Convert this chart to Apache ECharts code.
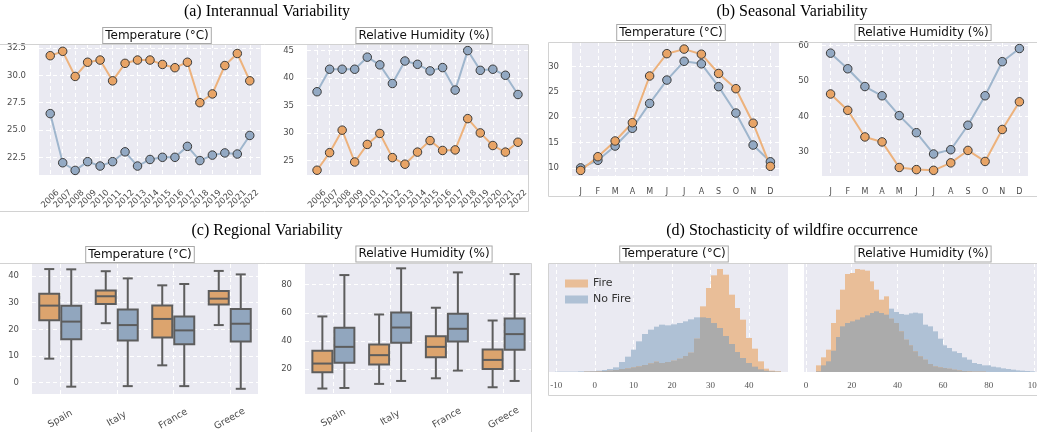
<!DOCTYPE html>
<html>
<head>
<meta charset="utf-8">
<script src="https://cdn.jsdelivr.net/npm/echarts@6/dist/echarts.min.js"></script>
<style>
html, body { margin: 0; padding: 0; background: #fff; }
#chart { width: 1037px; height: 432px; }
</style>
</head>
<body>
<div id="chart"></div>
<script>
// ---------- (a) interannual means ----------
const years = [2006, 2007, 2008, 2009, 2010, 2011, 2012, 2013, 2014, 2015, 2016, 2017, 2018, 2019, 2020, 2021, 2022];
const annualTempFire   = [31.8, 32.2, 29.9, 31.2, 31.4, 29.5, 31.1, 31.4, 31.4, 31.0, 30.7, 31.2, 27.5, 28.3, 30.9, 32.0, 29.5];
const annualTempNoFire = [26.5, 22.0, 21.3, 22.1, 21.7, 22.1, 23.0, 21.7, 22.3, 22.5, 22.5, 23.5, 22.2, 22.7, 22.9, 22.8, 24.5];
const annualRhFire     = [23.2, 26.4, 30.5, 24.7, 27.9, 29.9, 25.5, 24.3, 26.5, 28.6, 26.8, 26.9, 32.6, 30.0, 27.7, 26.5, 28.3];
const annualRhNoFire   = [37.5, 41.6, 41.6, 41.6, 43.8, 42.4, 39.0, 43.1, 42.5, 41.3, 41.9, 37.8, 45.0, 41.4, 41.6, 40.5, 37.0];
const annualTempTicks = [22.5, 25, 27.5, 30, 32.5];
const annualRhTicks   = [25, 30, 35, 40, 45];

// ---------- (b) monthly means ----------
const monthLabels = ['J', 'F', 'M', 'A', 'M', 'J', 'J', 'A', 'S', 'O', 'N', 'D'];
const monthlyTempFire   = [9.5, 12.2, 15.3, 18.9, 28.1, 32.5, 33.4, 32.4, 28.6, 25.6, 18.8, 10.3];
const monthlyTempNoFire = [10.0, 11.5, 14.3, 17.8, 22.7, 27.3, 31.0, 30.5, 26.0, 20.8, 14.5, 11.2];
const monthlyRhFire     = [46.3, 41.7, 34.2, 32.8, 25.6, 25.0, 24.8, 26.9, 30.4, 27.3, 36.3, 44.1];
const monthlyRhNoFire   = [57.8, 53.4, 48.4, 45.8, 40.2, 35.4, 29.4, 30.6, 37.5, 45.8, 55.4, 59.1];
const monthlyTempTicks = [10, 15, 20, 25, 30];
const monthlyRhTicks   = [30, 40, 50, 60];

// ---------- (c) regional distributions: [min, Q1, median, Q3, max] ----------
const regions = ['Spain', 'Italy', 'France', 'Greece'];
const regionTempFire   = [[9.0, 23.4, 28.9, 33.3, 42.6], [22.3, 29.5, 32.4, 34.6, 41.8], [6.5, 16.9, 23.9, 28.9, 36.5], [21.6, 29.3, 31.5, 34.4, 41.9]];
const regionTempNoFire = [[-1.5, 16.3, 22.9, 28.8, 42.5], [-1.3, 15.8, 21.6, 27.4, 39.1], [-1.3, 14.4, 19.6, 24.8, 37.0], [-2.3, 15.4, 22.1, 27.6, 40.6]];
const regionRhFire     = [[6.0, 17.6, 23.8, 32.9, 57.4], [9.3, 23.1, 29.8, 37.4, 58.8], [13.3, 28.3, 35.7, 43.3, 63.6], [6.9, 20.0, 26.4, 33.8, 54.5]];
const regionRhNoFire   = [[6.4, 24.3, 35.7, 49.3, 86.9], [11.4, 38.6, 49.5, 60.2, 91.7], [18.8, 39.5, 48.6, 59.3, 88.8], [11.4, 33.6, 44.8, 56.0, 87.6]];
const regionTempTicks = [0, 10, 20, 30, 40];
const regionRhTicks   = [20, 40, 60, 80];

// ---------- (d) histograms (relative frequency, arbitrary units) ----------
const tempBinStart = -10.25, tempBinWidth = 1.5;
const tempHistFire   = [0, 0, 0, 0, 0, 1, 1, 2, 3, 4, 6, 9, 11, 14, 17, 21, 26, 31, 27, 30, 34, 40, 48, 58, 100, 197, 252, 290, 309, 292, 232, 192, 157, 102, 70, 32, 10, 4, 2];
const tempHistNoFire = [1, 1, 1, 1, 2, 2, 3, 4, 6, 9, 14, 30, 46, 67, 92, 114, 127, 136, 142, 140, 143, 147, 152, 158, 164, 164, 162, 147, 132, 108, 84, 60, 42, 27, 16, 8, 4, 2, 1];
const rhBinStart = 4.4, rhBinWidth = 2.13;
const rhHistFire   = [20, 44, 67, 147, 187, 247, 294, 297, 309, 307, 304, 272, 247, 217, 227, 160, 147, 122, 97, 80, 62, 47, 37, 24, 17, 14, 12, 10, 7, 5, 3, 2, 1, 1, 1, 0, 0, 0, 0, 0, 0, 0, 0, 0, 0];
const rhHistNoFire = [2, 20, 32, 64, 105, 137, 147, 152, 157, 164, 170, 177, 182, 177, 172, 190, 180, 174, 172, 176, 178, 176, 142, 137, 122, 100, 80, 72, 62, 57, 44, 37, 27, 24, 20, 20, 16, 14, 11, 9, 7, 5, 4, 3, 2];
const histTempTicks = [-10, 0, 10, 20, 30, 40];
const histRhTicks   = [0, 20, 40, 60, 80, 100];

// ---------- styling ----------
const FIRE_LINE = '#EDB27C', FIRE_DOT = '#E8A466';
const NOFIRE_LINE = '#9FB6CD', NOFIRE_DOT = '#93A9C3';
const FIRE_BOX = '#DCA46E', NOFIRE_BOX = '#91A6BE';
const FIRE_HIST = '#E9BE98', NOFIRE_HIST = '#AFC1D5', BOTH_HIST = '#ABABAB';
const PANEL_BG = '#EAEAF2';
const SANS = 'DejaVu Sans', SERIF = 'Liberation Serif';

const monthIdx = monthLabels.map((_, i) => i);
const regionIdx = regions.map((_, i) => i);

const grids = [
  { left: 39,  top: 44,  width: 222, height: 131 },
  { left: 307, top: 44,  width: 221, height: 131 },
  { left: 572, top: 42,  width: 207, height: 134 },
  { left: 822, top: 43,  width: 206, height: 133 },
  { left: 32,  top: 264, width: 226, height: 130 },
  { left: 305, top: 263, width: 227, height: 131 },
  { left: 549, top: 263, width: 239, height: 109 },
  { left: 804, top: 263, width: 233, height: 109 }
].map(g => Object.assign({ show: true, backgroundColor: PANEL_BG, borderWidth: 0, containLabel: false, outerBoundsMode: 'none' }, g));

const dashedGrid = { show: true, lineStyle: { color: '#ffffff', width: 1, type: [4, 3] } };

function axis(gridIndex, min, max, ticks, label, split) {
  return {
    type: 'value', gridIndex, min, max,
    axisLine: { show: false },
    axisTick: { show: false, customValues: ticks },
    axisLabel: Object.assign({ customValues: ticks, fontFamily: SANS, color: '#4d4d4d', fontSize: 8.5, margin: 13 }, label),
    splitLine: split === false ? { show: false } : dashedGrid
  };
}

const yearLabel = { rotate: 45, align: 'center', verticalAlign: 'middle', margin: 24, fontSize: 8.5, formatter: v => String(v) };
const monthLabel = { margin: 12, fontSize: 8, formatter: v => monthLabels[v] };
const regionLabel = m => ({ rotate: 30, align: 'center', verticalAlign: 'middle', margin: m, fontSize: 9.5, formatter: v => regions[v] });
const histLabel = { fontFamily: SERIF, fontSize: 9, margin: 9, color: '#555', formatter: v => String(v) };

const xAxis = [
  axis(0, 2005.1, 2022.9, years, yearLabel),
  axis(1, 2005.2, 2022.8, years, yearLabel),
  axis(2, -0.5, 11.5, monthIdx, monthLabel),
  axis(3, -0.5, 11.5, monthIdx, monthLabel),
  axis(4, -0.5, 3.5, regionIdx, regionLabel(25)),
  axis(5, -0.5, 3.5, regionIdx, regionLabel(24)),
  axis(6, -11.9, 50.1, histTempTicks, histLabel),
  axis(7, -0.9, 101.1, histRhTicks, histLabel)
];

const yAxis = [
  axis(0, 20.88, 32.87, annualTempTicks, { formatter: v => v.toFixed(1) }),
  axis(1, 22.33, 46.2, annualRhTicks, { formatter: v => String(v) }),
  axis(2, 8.4, 34.8, monthlyTempTicks, { formatter: v => String(v) }),
  axis(3, 23.2, 60.66, monthlyRhTicks, { formatter: v => String(v) }),
  axis(4, -4.25, 44.5, regionTempTicks, { formatter: v => String(v) }),
  axis(5, 2.1, 95.5, regionRhTicks, { formatter: v => String(v) }),
  { type: 'value', gridIndex: 6, min: 0, max: 327, show: false },
  { type: 'value', gridIndex: 7, min: 0, max: 327, show: false }
];

function lineSeries(idx, xs, ys, lineColor, dotColor) {
  return {
    type: 'line', xAxisIndex: idx, yAxisIndex: idx,
    data: xs.map((x, i) => [x, ys[i]]),
    symbol: 'circle', symbolSize: 8.5, showSymbol: true,
    lineStyle: { color: lineColor, width: 2 },
    itemStyle: { color: dotColor, borderColor: '#3b3b3b', borderWidth: 1 },
    emphasis: { disabled: true }, silent: true
  };
}

// box-and-whisker per region, shifted left/right of the category centre
function boxSeries(idx, stats, offset, fill) {
  return {
    type: 'custom', xAxisIndex: idx, yAxisIndex: idx, silent: true,
    data: stats.map((s, i) => [i].concat(s)),
    encode: { x: 0, y: [1, 2, 3, 4, 5] },
    renderItem: (params, api) => {
      const i = api.value(0);
      const cx = api.coord([i, api.value(3)])[0] + offset;
      const y = k => api.coord([i, api.value(k)])[1];
      const yMin = y(1), yQ1 = y(2), yMed = y(3), yQ3 = y(4), yMax = y(5);
      const hw = 10, cw = 5;
      const st = { stroke: '#5d5d5d', lineWidth: 2, fill: null };
      return {
        type: 'group', children: [
          { type: 'line', shape: { x1: cx, y1: yMax, x2: cx, y2: yQ3 }, style: st },
          { type: 'line', shape: { x1: cx, y1: yQ1, x2: cx, y2: yMin }, style: st },
          { type: 'line', shape: { x1: cx - cw, y1: yMax, x2: cx + cw, y2: yMax }, style: st },
          { type: 'line', shape: { x1: cx - cw, y1: yMin, x2: cx + cw, y2: yMin }, style: st },
          { type: 'rect', shape: { x: cx - hw, y: yQ3, width: 2 * hw, height: yQ1 - yQ3 }, style: { fill, stroke: '#5d5d5d', lineWidth: 2 } },
          { type: 'line', shape: { x1: cx - hw, y1: yMed, x2: cx + hw, y2: yMed }, style: st }
        ]
      };
    }
  };
}

// histogram bars on a value axis, one rect per bin
function histSeries(idx, name, start, width, heights, color) {
  return {
    type: 'custom', name, xAxisIndex: idx, yAxisIndex: idx, silent: true,
    itemStyle: { color },
    data: heights.map((h, k) => [start + k * width, start + (k + 1) * width, h]),
    encode: { x: [0, 1], y: 2 },
    renderItem: (params, api) => {
      const p0 = api.coord([api.value(0), api.value(2)]);
      const p1 = api.coord([api.value(1), 0]);
      const x0 = Math.round(p0[0]), x1 = Math.round(p1[0]);
      return { type: 'rect', shape: { x: x0, y: p0[1], width: x1 - x0, height: p1[1] - p0[1] }, style: { fill: color } };
    }
  };
}

const minOf = (a, b) => a.map((v, k) => Math.min(v, b[k]));

const series = [
  lineSeries(0, years, annualTempNoFire, NOFIRE_LINE, NOFIRE_DOT),
  lineSeries(0, years, annualTempFire, FIRE_LINE, FIRE_DOT),
  lineSeries(1, years, annualRhNoFire, NOFIRE_LINE, NOFIRE_DOT),
  lineSeries(1, years, annualRhFire, FIRE_LINE, FIRE_DOT),
  lineSeries(2, monthIdx, monthlyTempNoFire, NOFIRE_LINE, NOFIRE_DOT),
  lineSeries(2, monthIdx, monthlyTempFire, FIRE_LINE, FIRE_DOT),
  lineSeries(3, monthIdx, monthlyRhNoFire, NOFIRE_LINE, NOFIRE_DOT),
  lineSeries(3, monthIdx, monthlyRhFire, FIRE_LINE, FIRE_DOT),
  boxSeries(4, regionTempFire, -11, FIRE_BOX),
  boxSeries(4, regionTempNoFire, 11, NOFIRE_BOX),
  boxSeries(5, regionRhFire, -11, FIRE_BOX),
  boxSeries(5, regionRhNoFire, 11, NOFIRE_BOX),
  histSeries(6, 'No Fire', tempBinStart, tempBinWidth, tempHistNoFire, NOFIRE_HIST),
  histSeries(6, 'Fire', tempBinStart, tempBinWidth, tempHistFire, FIRE_HIST),
  histSeries(6, 'both', tempBinStart, tempBinWidth, minOf(tempHistFire, tempHistNoFire), BOTH_HIST),
  histSeries(7, 'No Fire', rhBinStart, rhBinWidth, rhHistNoFire, NOFIRE_HIST),
  histSeries(7, 'Fire', rhBinStart, rhBinWidth, rhHistFire, FIRE_HIST),
  histSeries(7, 'both', rhBinStart, rhBinWidth, minOf(rhHistFire, rhHistNoFire), BOTH_HIST)
];

function heading(x, y, text) {
  return { type: 'text', x, y, z: 100, silent: true,
    style: { text, font: '16px "' + SERIF + '"', fill: '#000', align: 'center', verticalAlign: 'middle', textAlign: 'center', textVerticalAlign: 'middle' } };
}
function boxedTitle(x, y, text) {
  return { type: 'text', x, y, z: 100, silent: true,
    style: { text, font: '12px "' + SANS + '"', fill: '#111', align: 'center', verticalAlign: 'middle', textAlign: 'center', textVerticalAlign: 'middle',
      backgroundColor: '#ffffff', borderColor: '#a8a8a8', borderWidth: 1, padding: [2, 2, 1, 2] } };
}
function frame(x1, y1, x2, y2) {
  return { type: 'line', z: 90, silent: true, shape: { x1, y1, x2, y2 }, style: { stroke: '#d2d2d2', lineWidth: 1 } };
}

const graphic = [
  heading(267, 12, '(a) Interannual Variability'),
  heading(792, 12, '(b) Seasonal Variability'),
  heading(267, 231, '(c) Regional Variability'),
  heading(792, 231, '(d) Stochasticity of wildfire occurrence'),
  boxedTitle(157, 35.5, 'Temperature (°C)'),
  boxedTitle(424, 35.5, 'Relative Humidity (%)'),
  boxedTitle(671, 32.5, 'Temperature (°C)'),
  boxedTitle(923, 32.5, 'Relative Humidity (%)'),
  boxedTitle(140, 254.5, 'Temperature (°C)'),
  boxedTitle(424, 254, 'Relative Humidity (%)'),
  boxedTitle(674, 254, 'Temperature (°C)'),
  boxedTitle(923, 254, 'Relative Humidity (%)'),
  frame(0, 44.5, 528.5, 44.5), frame(0, 211.5, 528.5, 211.5), frame(528.5, 44.5, 528.5, 211.5),
  frame(548.5, 42.5, 1037, 42.5), frame(548.5, 42.5, 548.5, 196.5), frame(548.5, 196.5, 1037, 196.5),
  frame(0, 263.5, 531.5, 263.5), frame(531.5, 263.5, 531.5, 432),
  frame(548.5, 263.5, 1037, 263.5), frame(548.5, 263.5, 548.5, 395.5), frame(548.5, 395.5, 1037, 395.5)
];

const chart = echarts.init(document.getElementById('chart'), null, { renderer: 'canvas', width: 1037, height: 432 });
chart.setOption({
  animation: false,
  backgroundColor: '#ffffff',
  grid: grids,
  xAxis, yAxis, series, graphic,
  legend: {
    data: ['Fire', 'No Fire'], orient: 'vertical', left: 560, top: 272,
    itemWidth: 23, itemHeight: 8, itemGap: 3, icon: 'rect', selectedMode: false,
    textStyle: { fontFamily: SANS, fontSize: 11, color: '#333', lineHeight: 13 }
  }
});
</script>
</body>
</html>
